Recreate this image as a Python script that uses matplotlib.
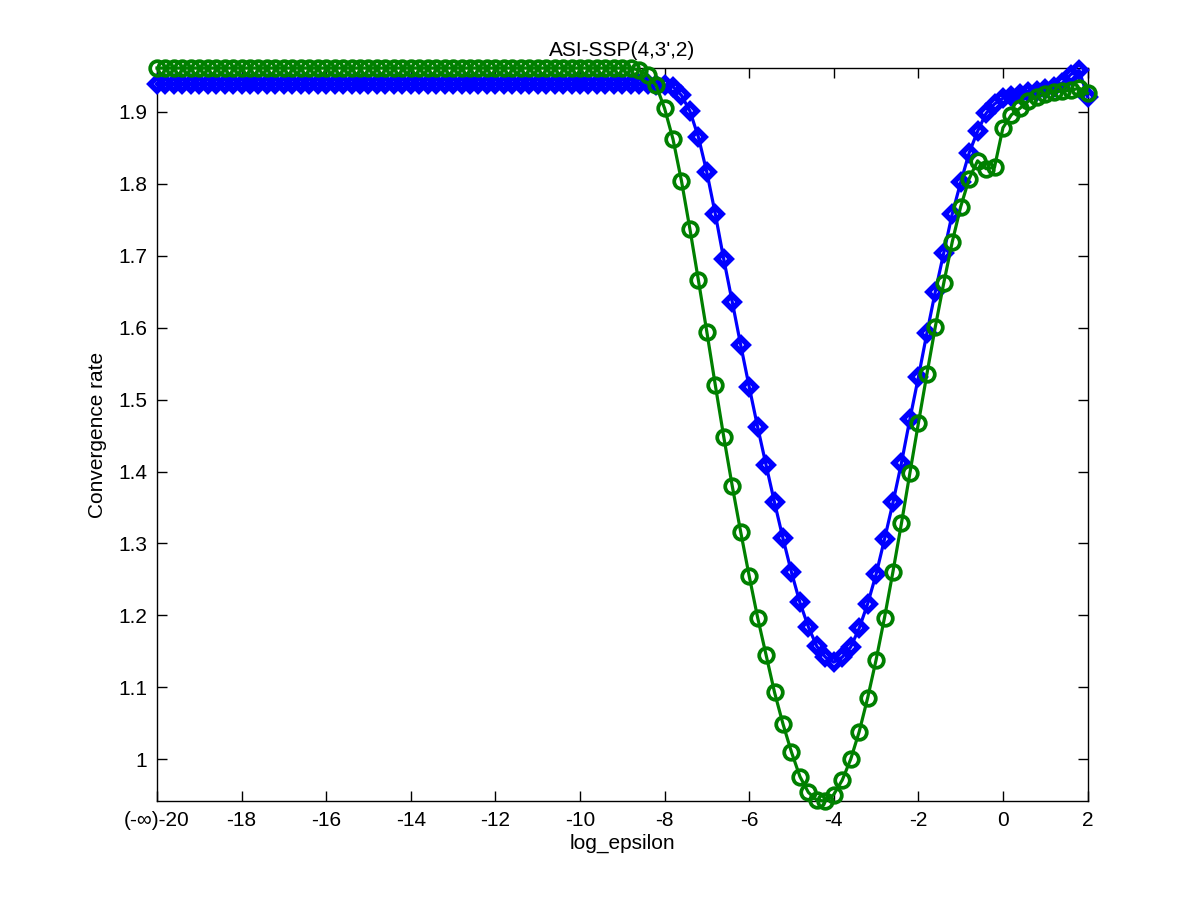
import numpy as np
import matplotlib
matplotlib.use("Agg")
import matplotlib.pyplot as plt

plt.rcParams['font.family'] = ['Liberation Sans', 'DejaVu Sans']

# sample grid of log_epsilon (step 0.2 from -20 to 2)
log_eps = np.linspace(-20, 2, 111)

rate_blue = [
    1.939, 1.939, 1.939, 1.939, 1.939, 1.939, 1.939, 1.939, 1.939, 1.939,
    1.939, 1.939, 1.939, 1.939, 1.939, 1.939, 1.939, 1.939, 1.939, 1.939,
    1.939, 1.939, 1.939, 1.939, 1.939, 1.939, 1.939, 1.939, 1.939, 1.939,
    1.939, 1.939, 1.939, 1.939, 1.939, 1.939, 1.939, 1.939, 1.939, 1.939,
    1.939, 1.939, 1.939, 1.939, 1.939, 1.939, 1.939, 1.939, 1.939, 1.939,
    1.939, 1.939, 1.939, 1.939, 1.939, 1.939, 1.939, 1.939, 1.939, 1.938,
    1.937, 1.935, 1.923, 1.901, 1.865, 1.816, 1.758, 1.695, 1.636, 1.576,
    1.518, 1.462, 1.409, 1.357, 1.307, 1.260, 1.218, 1.184, 1.157, 1.142,
    1.135, 1.142, 1.156, 1.182, 1.216, 1.257, 1.306, 1.357, 1.412, 1.473,
    1.531, 1.592, 1.650, 1.704, 1.758, 1.802, 1.843, 1.873, 1.898, 1.911,
    1.919, 1.922, 1.925, 1.928, 1.929, 1.932, 1.935, 1.940, 1.952, 1.958,
    1.921,
]

rate_green = [
    1.961, 1.961, 1.961, 1.961, 1.961, 1.961, 1.961, 1.961, 1.961, 1.961,
    1.961, 1.961, 1.961, 1.961, 1.961, 1.961, 1.961, 1.961, 1.961, 1.961,
    1.961, 1.961, 1.961, 1.961, 1.961, 1.961, 1.961, 1.961, 1.961, 1.961,
    1.961, 1.961, 1.961, 1.961, 1.961, 1.961, 1.961, 1.961, 1.961, 1.961,
    1.961, 1.961, 1.961, 1.961, 1.961, 1.961, 1.961, 1.961, 1.961, 1.961,
    1.961, 1.961, 1.961, 1.961, 1.961, 1.961, 1.961, 1.958, 1.951, 1.937,
    1.905, 1.862, 1.804, 1.737, 1.666, 1.594, 1.520, 1.448, 1.380, 1.316,
    1.255, 1.197, 1.145, 1.093, 1.049, 1.010, 0.976, 0.954, 0.943, 0.942,
    0.951, 0.971, 1.000, 1.038, 1.085, 1.138, 1.197, 1.261, 1.328, 1.398,
    1.467, 1.535, 1.601, 1.662, 1.719, 1.768, 1.807, 1.832, 1.821, 1.823,
    1.878, 1.896, 1.905, 1.915, 1.921, 1.925, 1.928, 1.929, 1.930, 1.933,
    1.926,
]

x_ticks = [-20, -18, -16, -14, -12, -10, -8, -6, -4, -2, 0, 2]
x_tick_labels = ['(-\u221e)-20', '-18', '-16', '-14', '-12', '-10', '-8', '-6', '-4', '-2', '0', '2']
y_ticks = [1.0, 1.1, 1.2, 1.3, 1.4, 1.5, 1.6, 1.7, 1.8, 1.9]
y_tick_labels = ['1', '1.1', '1.2', '1.3', '1.4', '1.5', '1.6', '1.7', '1.8', '1.9']

fig = plt.figure(figsize=(12, 9), dpi=100)
ax = fig.add_axes([0.1308, 0.11, 0.7755, 0.8144])

ax.plot(log_eps, rate_blue, color=(0, 0, 1), linewidth=2.3, marker='D',
        markersize=7, markerfacecolor='none', markeredgecolor=(0, 0, 1),
        markeredgewidth=4.0, clip_on=False, zorder=3)
ax.plot(log_eps, rate_green, color=(0, 0.5, 0), linewidth=2.3, marker='o',
        markersize=10.5, markerfacecolor='none', markeredgecolor=(0, 0.5, 0),
        markeredgewidth=2.7, clip_on=False, zorder=4)

ax.set_xlim(-20, 2)
ymin = min(min(rate_blue), min(rate_green))
ymax = max(max(rate_blue), max(rate_green))
ax.set_ylim(ymin, ymax)

ax.set_xticks(x_ticks)
ax.set_xticklabels(x_tick_labels)
ax.set_yticks(y_ticks)
ax.set_yticklabels(y_tick_labels)

ax.tick_params(direction='in', length=7, width=1, top=True, right=True,
               labelsize=15, pad=7)
for s in ax.spines.values():
    s.set_linewidth(1)

ax.set_title("ASI-SSP(4,3',2)", fontsize=15, pad=9)
ax.set_xlabel('log_epsilon', fontsize=15, labelpad=3)
ax.set_ylabel('Convergence rate', fontsize=15, labelpad=8)

fig.savefig('out.png', dpi=100)
